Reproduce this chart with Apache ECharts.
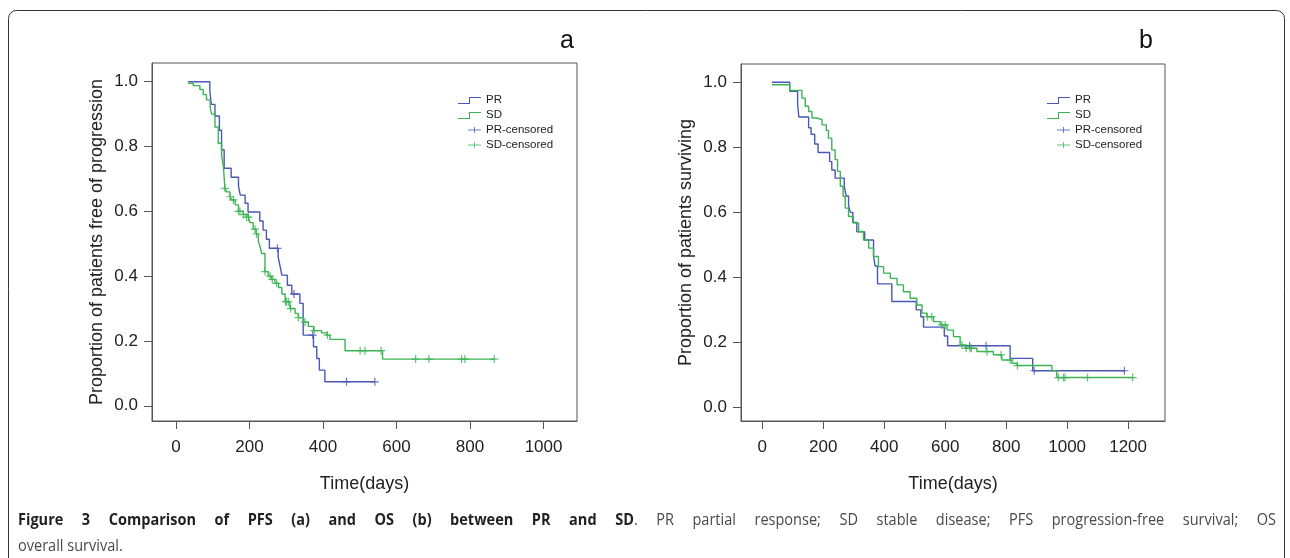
<!DOCTYPE html>
<html>
<head>
<meta charset="utf-8">
<script src="https://cdn.jsdelivr.net/npm/echarts@6/dist/echarts.min.js"></script>
<style>
    html, body { margin: 0; padding: 0; background: #fff; }
    #chart { width: 1290px; height: 558px; }
</style>
</head>
<body>
<div id="chart"></div>
<script>
// tick labels
const yTicks = [0, 0.2, 0.4, 0.6, 0.8, 1.0];
const xTicksA = [0, 200, 400, 600, 800, 1000];
const xTicksB = [0, 200, 400, 600, 800, 1000, 1200];

// (a) PFS - PR
const prPfsDays = [33, 92, 96, 106, 118, 124, 131, 150, 170, 175, 188, 196, 228, 237, 246, 254, 278, 283, 288, 303, 315, 337, 346, 374, 383, 390, 405, 541];
const prPfsSurv = [1.0, 0.972, 0.93, 0.894, 0.85, 0.79, 0.733, 0.705, 0.677, 0.65, 0.625, 0.598, 0.57, 0.542, 0.514, 0.486, 0.459, 0.432, 0.403, 0.372, 0.345, 0.316, 0.218, 0.182, 0.146, 0.11, 0.074, 0.074];
const prPfsCensDays = [276, 321, 372, 464, 541];
const prPfsCensSurv = [0.486, 0.345, 0.218, 0.074, 0.074];

// (a) PFS - SD
const sdPfsDays = [33, 47, 65, 74, 83, 93, 97, 106, 115, 124, 129, 133, 138, 147, 152, 161, 170, 183, 197, 201, 210, 218, 224, 229, 233, 242, 251, 260, 269, 279, 288, 297, 310, 324, 333, 347, 360, 374, 396, 410, 419, 460, 562, 868];
const sdPfsSurv = [0.995, 0.988, 0.976, 0.96, 0.944, 0.92, 0.9, 0.86, 0.81, 0.773, 0.738, 0.671, 0.66, 0.645, 0.635, 0.62, 0.6, 0.59, 0.582, 0.565, 0.545, 0.53, 0.508, 0.49, 0.47, 0.414, 0.4, 0.39, 0.378, 0.365, 0.345, 0.321, 0.3, 0.285, 0.272, 0.258, 0.245, 0.232, 0.225, 0.218, 0.205, 0.17, 0.144, 0.144];
const sdPfsCensDays = [133, 147, 156, 170, 174, 183, 192, 197, 215, 219, 242, 256, 262, 274, 298, 301, 306, 312, 333, 351, 376, 412, 501, 514, 558, 652, 688, 777, 786, 866];
const sdPfsCensSurv = [0.671, 0.645, 0.635, 0.6, 0.6, 0.59, 0.582, 0.582, 0.545, 0.53, 0.414, 0.4, 0.39, 0.378, 0.321, 0.321, 0.321, 0.3, 0.272, 0.258, 0.232, 0.218, 0.17, 0.17, 0.17, 0.144, 0.144, 0.144, 0.144, 0.144];

// (b) OS - PR
const prOsDays = [32, 90, 116, 120, 152, 160, 172, 183, 221, 228, 239, 269, 275, 283, 289, 297, 310, 336, 365, 370, 378, 425, 505, 520, 529, 597, 608, 813, 887, 1190];
const prOsSurv = [1.0, 0.972, 0.93, 0.893, 0.86, 0.84, 0.81, 0.784, 0.756, 0.73, 0.705, 0.68, 0.65, 0.621, 0.6, 0.569, 0.54, 0.515, 0.465, 0.435, 0.38, 0.326, 0.3, 0.279, 0.247, 0.22, 0.19, 0.151, 0.113, 0.113];
const prOsCensDays = [680, 734, 892, 1188];
const prOsCensSurv = [0.19, 0.19, 0.113, 0.113];

// (b) OS - SD
const sdOsDays = [32, 90, 130, 141, 152, 163, 179, 196, 210, 217, 228, 239, 247, 256, 265, 272, 283, 299, 316, 332, 349, 365, 381, 398, 420, 442, 463, 485, 507, 524, 540, 562, 584, 606, 627, 649, 666, 704, 758, 786, 819, 835, 950, 966, 1217];
const sdOsSurv = [0.992, 0.975, 0.951, 0.926, 0.91, 0.89, 0.885, 0.869, 0.852, 0.828, 0.792, 0.762, 0.726, 0.68, 0.649, 0.613, 0.587, 0.567, 0.541, 0.515, 0.49, 0.464, 0.433, 0.413, 0.397, 0.377, 0.356, 0.336, 0.315, 0.29, 0.279, 0.264, 0.254, 0.238, 0.218, 0.192, 0.182, 0.172, 0.162, 0.146, 0.136, 0.129, 0.113, 0.092, 0.092];
const sdOsCensDays = [541, 556, 589, 600, 655, 669, 682, 686, 737, 783, 813, 837, 971, 988, 993, 1067, 1215];
const sdOsCensSurv = [0.279, 0.279, 0.254, 0.254, 0.192, 0.182, 0.182, 0.182, 0.172, 0.162, 0.146, 0.129, 0.092, 0.092, 0.092, 0.092, 0.092];

// caption
const captionBold = 'Figure 3 Comparison of PFS (a) and OS (b) between PR and SD';
const captionRest = '. PR partial response; SD stable disease; PFS progression-free survival; OS';
const captionLine2 = 'overall survival.';

const zip = (xs, ys) => xs.map((x, i) => [x, ys[i]]);

const BLUE = '#4a57b6',
    GREEN = '#3cb454',
    AXIS = '#555',
    FONT = 'Liberation Sans',
    CAP_FONT = 'Open Sans',
    CAP_SIZE = 16.5,
    CAP_SQUEEZE = 0.88;

// legend icons: invisible specks pin the bounding box so every icon is 23x8
const STEP_ICON = 'path://M0,7H11V1H23V2H12V8H0Z M0,0h0.01v0.01h-0.01Z';
const CENS_ICON = 'path://M0,0h0.01v0.01h-0.01Z M0,8h0.01v-0.01h-0.01Z M10,3.5H23V4.5H10Z M16,1H17V7H16Z';
const PLUS = 'path://M3.6,0H4.9V3.6H8.5V4.9H4.9V8.5H3.6V4.9H0V3.6H3.6Z';

function xAxisFor(gridIndex, min, max, ticks) {
    return {
        type: 'value',
        gridIndex: gridIndex,
        min: min,
        max: max,
        name: 'Time(days)',
        nameLocation: 'middle',
        nameGap: 54,
        nameTextStyle: { fontSize: 18, color: '#222', fontFamily: FONT },
        axisLine: { show: true, onZero: false, lineStyle: { color: AXIS, width: 1 } },
        axisTick: { show: true, length: 8, customValues: ticks, lineStyle: { color: AXIS } },
        axisLabel: {
            customValues: ticks,
            fontSize: 17,
            color: '#222',
            fontFamily: FONT,
            margin: 18,
            formatter: (v) => String(v),
        },
        splitLine: { show: false },
    };
}

function yAxisFor(gridIndex, min, max, title) {
    return {
        type: 'value',
        gridIndex: gridIndex,
        min: min,
        max: max,
        name: title,
        nameLocation: 'middle',
        nameGap: 46,
        nameTextStyle: { fontSize: 18, color: '#222', fontFamily: FONT },
        axisLine: { show: true, onZero: false, lineStyle: { color: AXIS, width: 1 } },
        axisTick: { show: true, length: 8, customValues: yTicks, lineStyle: { color: AXIS } },
        axisLabel: {
            customValues: yTicks,
            fontSize: 17,
            color: '#222',
            fontFamily: FONT,
            margin: 14,
            formatter: (v) => v.toFixed(1),
        },
        splitLine: { show: false },
    };
}

function kmLine(name, axisIndex, data, color) {
    return {
        name: name,
        type: 'line',
        step: 'end',
        xAxisIndex: axisIndex,
        yAxisIndex: axisIndex,
        data: data,
        showSymbol: false,
        silent: true,
        itemStyle: { color: color },
        lineStyle: { color: color, width: 1.4 },
    };
}

function censMarks(name, axisIndex, data, color) {
    return {
        name: name,
        type: 'scatter',
        xAxisIndex: axisIndex,
        yAxisIndex: axisIndex,
        data: data,
        symbol: PLUS,
        symbolSize: 8,
        silent: true,
        itemStyle: { color: color },
        z: 3,
    };
}

function legendAt(left) {
    return {
        left: left,
        top: 89,
        orient: 'vertical',
        itemWidth: 23,
        itemHeight: 8,
        itemGap: 3,
        textStyle: { fontSize: 11.5, color: '#222', fontFamily: FONT },
        selectedMode: false,
        data: [
            { name: 'PR', icon: STEP_ICON },
            { name: 'SD', icon: STEP_ICON },
            { name: 'PR-censored', icon: CENS_ICON },
            { name: 'SD-censored', icon: CENS_ICON },
        ],
    };
}

// first caption line is justified, so it is laid out word by word
function captionGraphics() {
    const left = 18, right = 1276, y1 = 520, y2 = 546;
    const ctx = document.createElement('canvas').getContext('2d');
    const fontOf = (bold) => (bold ? 'bold ' : '') + CAP_SIZE + 'px "' + CAP_FONT + '"';
    const groups = captionBold.split(' ').map((w) => [{ t: w, b: true }]);
    captionRest.split(' ').forEach((w) => {
        if (w === '.') groups[groups.length - 1].push({ t: w, b: false });
        else groups.push([{ t: w, b: false }]);
    });
    let total = 0;
    groups.forEach((g) => g.forEach((p) => {
        ctx.font = fontOf(p.b);
        p.w = ctx.measureText(p.t).width * CAP_SQUEEZE;
        total += p.w;
    }));
    const gap = (right - left - total) / (groups.length - 1);
    const textEl = (t, x, y, bold) => ({
        type: 'text', x: x, y: y, scaleX: CAP_SQUEEZE, silent: true,
        style: {
            text: t, fontSize: CAP_SIZE, fontWeight: bold ? 'bold' : 'normal', fontFamily: CAP_FONT,
            fill: bold ? '#231f20' : '#4a4a4a', verticalAlign: 'middle',
        },
    });
    const out = [];
    let x = left;
    groups.forEach((g) => {
        g.forEach((p) => {
            out.push(textEl(p.t, x, y1, p.b));
            x += p.w;
        });
        x += gap;
    });
    out.push(textEl(captionLine2, left, y2, false));
    return out;
}

const option = {
    animation: false,
    backgroundColor: '#fff',
    grid: [
        { left: 152, top: 63, width: 425, height: 358, show: true, borderColor: AXIS, borderWidth: 1 },
        { left: 741, top: 64, width: 424, height: 357, show: true, borderColor: AXIS, borderWidth: 1 },
    ],
    xAxis: [
        xAxisFor(0, -65.3, 1091, xTicksA),
        xAxisFor(1, -69.8, 1321, xTicksB),
    ],
    yAxis: [
        yAxisFor(0, -0.047, 1.0577, 'Proportion of patients free of progression'),
        yAxisFor(1, -0.0415, 1.056, 'Proportion of patients surviving'),
    ],
    legend: [legendAt(453), legendAt(1042)],
    series: [
        kmLine('PR', 0, zip(prPfsDays, prPfsSurv), BLUE),
        kmLine('SD', 0, zip(sdPfsDays, sdPfsSurv), GREEN),
        censMarks('PR-censored', 0, zip(prPfsCensDays, prPfsCensSurv), BLUE),
        censMarks('SD-censored', 0, zip(sdPfsCensDays, sdPfsCensSurv), GREEN),
        kmLine('PR', 1, zip(prOsDays, prOsSurv), BLUE),
        kmLine('SD', 1, zip(sdOsDays, sdOsSurv), GREEN),
        censMarks('PR-censored', 1, zip(prOsCensDays, prOsCensSurv), BLUE),
        censMarks('SD-censored', 1, zip(sdOsCensDays, sdOsCensSurv), GREEN),
    ],
    graphic: [
        {
            type: 'rect',
            shape: { x: 8.5, y: 10.5, width: 1276, height: 600, r: 8 },
            style: { fill: 'none', stroke: '#333', lineWidth: 1 },
            silent: true,
        },
        {
            type: 'text',
            x: 567, y: 41,
            style: { text: 'a', fontSize: 25, fontFamily: FONT, fill: '#111', align: 'center', verticalAlign: 'middle' },
        },
        {
            type: 'text',
            x: 1146, y: 41,
            style: { text: 'b', fontSize: 25, fontFamily: FONT, fill: '#111', align: 'center', verticalAlign: 'middle' },
        },
    ].concat(captionGraphics()),
};

const myChart = echarts.init(document.getElementById('chart'));
myChart.setOption(option);
</script>
</body>
</html>
